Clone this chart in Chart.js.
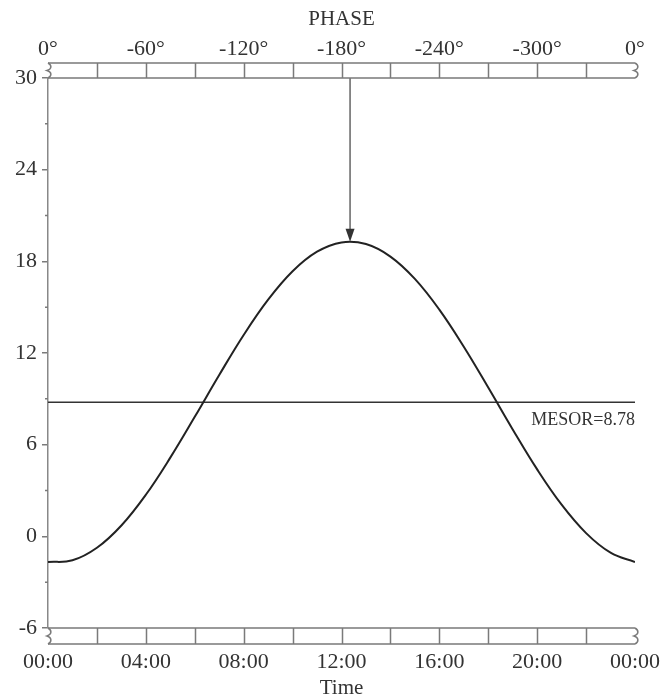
<!DOCTYPE html>
<html><head><meta charset="utf-8">
<style>html,body{margin:0;padding:0;background:#fff}#wrap{width:660px;height:696px}</style>
<script src="https://cdn.jsdelivr.net/npm/chart.js@4.4.1/dist/chart.umd.min.js"></script>
</head><body><div id="wrap"><canvas id="c" width="660" height="696"></canvas></div>
<script>
// ---- data ----
const hours  = [0,1,2,3,4,5,6,7,8,9,10,11,12,13,14,15,16,17,18,19,20,21,22,23,24];
const fitted = [-1.68,-1.57,-0.75,0.71,2.72,5.15,7.82,10.56,13.18,15.49,17.35,18.63,19.24,19.13,18.31,16.85,14.84,12.41,9.74,7.00,4.38,2.07,0.21,-1.07,-1.68];
const MESOR = 8.78;
const acrophaseHour = 12.35;   // phase about -185 deg
const peakValue = 19.28;
const timeLabels  = ['00:00','04:00','08:00','12:00','16:00','20:00','00:00'];
const phaseLabels = ['0°','-60°','-120°','-180°','-240°','-300°','0°'];
const yMajorLabels = [-6,0,6,12,18,24,30];
const barDividerHours = [2,4,6,8,10,12,14,16,18,20,22];

const FONT = 'Liberation Serif';
const TXT = '#333';

function squiggle(ctx, x, y0, y1, dir) {
  const h = y1 - y0;
  ctx.beginPath();
  ctx.moveTo(x, y0);
  ctx.bezierCurveTo(x + 4*dir, y0 + h*0.15, x + 4*dir, y0 + h*0.4, x - 1*dir, y0 + h*0.5);
  ctx.bezierCurveTo(x + 4*dir, y0 + h*0.6, x + 4*dir, y0 + h*0.85, x, y1);
  ctx.stroke();
}

const decor = {
  id: 'decor',
  afterDraw(chart) {
    const ctx = chart.ctx;
    const xs = chart.scales.x, ys = chart.scales.y;
    const L = xs.getPixelForValue(0), R = xs.getPixelForValue(24);
    ctx.save();
    ctx.strokeStyle = '#7a7a7a';
    ctx.lineWidth = 1.5;
    const bars = [[ys.getPixelForValue(30) - 15, ys.getPixelForValue(30)],
                  [ys.getPixelForValue(-6), ys.getPixelForValue(-6) + 16]];
    bars.forEach(([t, b]) => {
      ctx.beginPath();
      ctx.moveTo(L, t); ctx.lineTo(R, t);
      ctx.moveTo(L, b); ctx.lineTo(R, b);
      barDividerHours.forEach(h => {
        const px = Math.round(xs.getPixelForValue(h)) + 0.5;
        ctx.moveTo(px, t); ctx.lineTo(px, b);
      });
      ctx.stroke();
      squiggle(ctx, L, t, b, 1);
      squiggle(ctx, R, t, b, 1);
    });
    // minor ticks on y
    ctx.beginPath();
    for (let v = -3; v < 30; v += 6) {
      const py = ys.getPixelForValue(v);
      ctx.moveTo(ys.right - 3, py); ctx.lineTo(ys.right, py);
    }
    ctx.stroke();
    // arrowhead
    const ax = xs.getPixelForValue(acrophaseHour);
    const ay = ys.getPixelForValue(peakValue);
    ctx.fillStyle = '#333';
    ctx.beginPath();
    ctx.moveTo(ax, ay);
    ctx.lineTo(ax - 4.5, ay - 13);
    ctx.lineTo(ax + 4.5, ay - 13);
    ctx.closePath();
    ctx.fill();
    // MESOR label
    ctx.fillStyle = TXT;
    ctx.font = '18px "' + FONT + '"';
    ctx.textAlign = 'right';
    ctx.textBaseline = 'middle';
    ctx.fillText('MESOR=' + MESOR, R, ys.getPixelForValue(MESOR) + 18);
    ctx.restore();
  }
};

function fixHPad(s) { s.paddingLeft = 0; s.paddingRight = 25; }

new Chart(document.getElementById('c'), {
  type: 'line',
  data: {
    datasets: [
      { data: hours.map((h, i) => ({x: h, y: fitted[i]})), borderColor: '#222', borderWidth: 2,
        pointRadius: 0, tension: 0.4, xAxisID: 'x', yAxisID: 'y' },
      { data: [{x: 0, y: MESOR}, {x: 24, y: MESOR}], borderColor: '#333', borderWidth: 1.5,
        pointRadius: 0, xAxisID: 'x', yAxisID: 'y' },
      { data: [{x: acrophaseHour, y: 30}, {x: acrophaseHour, y: peakValue + 0.6}], borderColor: '#666',
        borderWidth: 1.5, pointRadius: 0, xAxisID: 'x', yAxisID: 'y' }
    ]
  },
  options: {
    responsive: false, animation: false, devicePixelRatio: 1,
    layout: { padding: { left: 0, right: 0, top: 0, bottom: 0 } },
    plugins: { legend: { display: false }, tooltip: { enabled: false } },
    scales: {
      x: {
        type: 'linear', position: 'bottom', min: 0, max: 24,
        ticks: { stepSize: 4, autoSkip: false, maxRotation: 0, padding: 21, color: TXT,
                 font: { family: FONT, size: 22 }, callback: v => timeLabels[v / 4] },
        grid: { display: false, drawTicks: false }, border: { display: false },
        title: { display: true, text: 'Time', color: TXT, font: { family: FONT, size: 21 }, padding: { top: 0, bottom: -5 } },
        afterFit: s => { s.height = 68; fixHPad(s); }
      },
      x2: {
        type: 'linear', position: 'top', min: 0, max: 24,
        ticks: { stepSize: 4, autoSkip: false, maxRotation: 0, padding: 16, color: TXT,
                 font: { family: FONT, size: 22 }, callback: v => phaseLabels[v / 4] },
        grid: { display: false, drawTicks: false }, border: { display: false },
        title: { display: true, text: 'PHASE', color: TXT, font: { family: FONT, size: 21 }, padding: { top: 7, bottom: 0 } },
        afterFit: s => { s.height = 78; fixHPad(s); }
      },
      y: {
        min: -6, max: 30,
        ticks: { stepSize: 3, padding: 5, color: TXT, font: { family: FONT, size: 22 },
                 callback: v => yMajorLabels.includes(v) ? String(v) : '' },
        grid: { drawOnChartArea: false, drawTicks: true, tickLength: 6, lineWidth: 1.5,
                color: c => (c.tick && yMajorLabels.includes(c.tick.value)) ? '#7a7a7a' : 'rgba(0,0,0,0)' },
        border: { color: '#888', width: 1.5 },
        afterFit: s => { s.width = 48; }
      }
    }
  },
  plugins: [decor]
});
</script></body></html>
